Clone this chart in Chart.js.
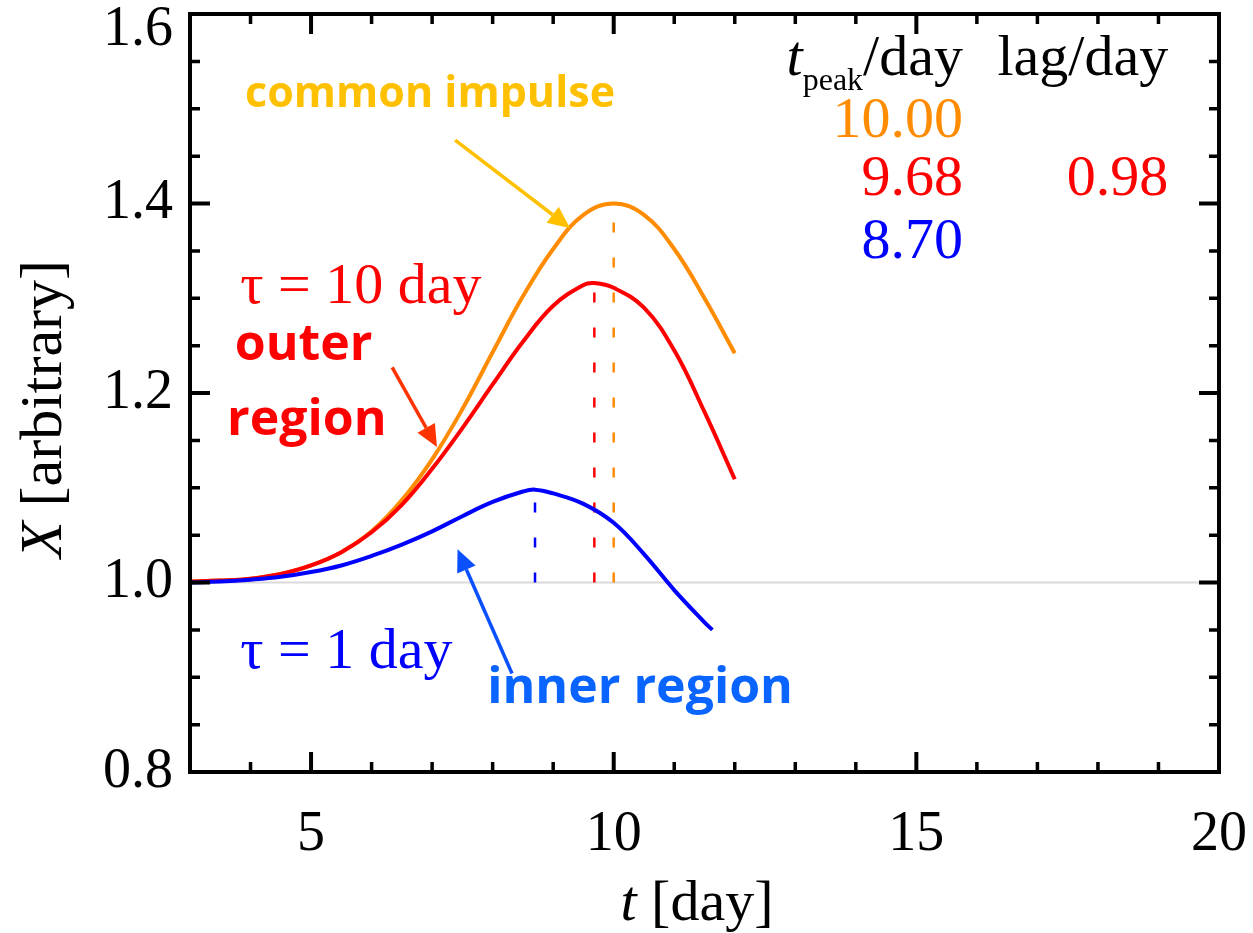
<!DOCTYPE html>
<html>
<head>
<meta charset="utf-8">
<title>Light curves</title>
<script src="https://cdn.jsdelivr.net/npm/chart.js@4.4.1/dist/chart.umd.min.js"></script>
<style>
  html, body { margin: 0; padding: 0; background: #fff; }
  #chart { display: block; }
</style>
</head>
<body>
<canvas id="chart" width="1253" height="933"></canvas>
<script>
// light curves, t in days
const tCommon = [3, 3.5, 4, 4.5, 5, 5.5, 6, 6.5, 7, 7.5, 8, 8.5, 9, 9.5, 10, 10.5, 11, 11.5, 12];
const xCommon = [1.001, 1.002, 1.004, 1.009, 1.018, 1.032, 1.054, 1.087, 1.130, 1.183, 1.243, 1.302, 1.352, 1.388, 1.400, 1.388, 1.352, 1.300, 1.242];

const tOuter = [3, 3.5, 4, 4.5, 5, 5.5, 6, 6.5, 7, 7.5, 8, 8.5, 9, 9.5, 9.68, 10, 10.5, 11, 11.5, 12];
const xOuter = [1.001, 1.002, 1.004, 1.009, 1.018, 1.032, 1.053, 1.082, 1.120, 1.163, 1.209, 1.254, 1.292, 1.314, 1.316, 1.311, 1.290, 1.245, 1.180, 1.109];

const tInner = [3, 3.5, 4, 4.5, 5, 5.5, 6, 6.5, 7, 7.5, 8, 8.5, 8.7, 9, 9.5, 10, 10.5, 11, 11.5, 11.63];
const xInner = [1.000, 1.001, 1.003, 1.006, 1.011, 1.018, 1.028, 1.040, 1.054, 1.070, 1.085, 1.096, 1.098, 1.094, 1.083, 1.063, 1.030, 0.992, 0.958, 0.950];

// peak time / peak height per curve (common, outer, inner) and the outer lag
const tPeak = [10.00, 9.68, 8.70];
const xPeak = [1.400, 1.316, 1.098];
const lagOuter = 0.98;

const xTicks = [5, 10, 15, 20];
const yTicks = [0.8, 1.0, 1.2, 1.4, 1.6];

const ORANGE = '#FF8C00';
const RED = '#FF0000';
const BLUE = '#0000FF';
const peakColors = [ORANGE, RED, BLUE];

const SERIF = '"Liberation Serif", "Times New Roman", serif';
const SANS = '"Open Sans", sans-serif';

function pts(ts, xs) {
    return ts.map((t, i) => ({ x: t, y: xs[i] }));
}

// text labels and arrows placed in data units
const notes = [
    { text: 'common impulse', t: 3.91, v: 1.502, font: '700 43px ' + SANS, color: '#FFC000' },
    { text: 'τ = 10 day', t: 3.83, v: 1.295, font: '58px ' + SERIF, color: RED },
    { text: 'outer', t: 3.74, v: 1.235, font: '700 50px ' + SANS, color: RED },
    { text: 'region', t: 3.61, v: 1.156, font: '700 50px ' + SANS, color: RED },
    { text: 'τ = 1 day', t: 3.83, v: 0.910, font: '58px ' + SERIF, color: BLUE },
    { text: 'inner region', t: 7.91, v: 0.873, font: '700 50px ' + SANS, color: '#0A64FF' }
];

const arrows = [
    { from: [7.38, 1.467], to: [9.28, 1.374], color: '#FFC000' },
    { from: [6.34, 1.227], to: [7.08, 1.143], color: '#FF3300' },
    { from: [8.32, 0.904], to: [7.42, 1.035], color: '#0A50FF' }
];

function drawRuns(ctx, runs, x, y, align) {
    let total = 0;
    runs.forEach(r => { ctx.font = r.font; r.w = ctx.measureText(r.text).width; total += r.w; });
    let cx = align === 'right' ? x - total : (align === 'center' ? x - total / 2 : x);
    runs.forEach(r => {
        ctx.font = r.font;
        ctx.fillStyle = r.color || '#000';
        ctx.fillText(r.text, cx, y + (r.dy || 0));
        cx += r.w;
    });
}

function drawArrow(ctx, x1, y1, x2, y2, color) {
    const ang = Math.atan2(y2 - y1, x2 - x1);
    const head = 22, half = 10;
    const bx = x2 - head * Math.cos(ang), by = y2 - head * Math.sin(ang);
    ctx.strokeStyle = color;
    ctx.fillStyle = color;
    ctx.lineWidth = 3.5;
    ctx.beginPath();
    ctx.moveTo(x1, y1);
    ctx.lineTo(bx, by);
    ctx.stroke();
    ctx.beginPath();
    ctx.moveTo(x2, y2);
    ctx.lineTo(bx + half * Math.sin(ang), by - half * Math.cos(ang));
    ctx.lineTo(bx - half * Math.sin(ang), by + half * Math.cos(ang));
    ctx.closePath();
    ctx.fill();
}

const annotations = {
    id: 'annotations',
    afterDatasetsDraw(chart) {
        const { ctx, scales: { x, y } } = chart;
        ctx.save();
        ctx.textBaseline = 'alphabetic';
        ctx.textAlign = 'left';
        notes.forEach(n => {
            drawRuns(ctx, [{ text: n.text, font: n.font, color: n.color }],
                x.getPixelForValue(n.t), y.getPixelForValue(n.v), 'left');
        });
        arrows.forEach(a => {
            drawArrow(ctx, x.getPixelForValue(a.from[0]), y.getPixelForValue(a.from[1]),
                x.getPixelForValue(a.to[0]), y.getPixelForValue(a.to[1]), a.color);
        });

        // peak / lag table
        const col1 = x.getPixelForValue(15.77);
        const col2 = x.getPixelForValue(19.16);
        const rows = [1.5356, 1.4702, 1.409, 1.3425].map(v => y.getPixelForValue(v));
        drawRuns(ctx, [
            { text: 't', font: 'italic 58px ' + SERIF },
            { text: 'peak', font: '32px ' + SERIF, dy: 15 },
            { text: '/day', font: '58px ' + SERIF }
        ], col1, rows[0], 'right');
        drawRuns(ctx, [{ text: 'lag/day', font: '58px ' + SERIF }], col2, rows[0], 'right');
        tPeak.forEach((tp, i) => {
            drawRuns(ctx, [{ text: tp.toFixed(2), font: '58px ' + SERIF, color: peakColors[i] }],
                col1, rows[i + 1], 'right');
        });
        drawRuns(ctx, [{ text: lagOuter.toFixed(2), font: '58px ' + SERIF, color: RED }],
            col2, rows[2], 'right');
        ctx.restore();
    }
};

// box with inward ticks on all four sides, plus axis titles
const frame = {
    id: 'frame',
    afterDraw(chart) {
        const { ctx, chartArea: a, scales: { x, y } } = chart;
        ctx.save();
        ctx.strokeStyle = '#000';
        ctx.lineCap = 'butt';
        for (let t = 4; t < 20; t++) {
            const major = t % 5 === 0;
            const len = major ? 20 : 10;
            const px = x.getPixelForValue(t);
            ctx.lineWidth = major ? 4 : 3.5;
            ctx.beginPath();
            ctx.moveTo(px, a.bottom); ctx.lineTo(px, a.bottom - len);
            ctx.moveTo(px, a.top); ctx.lineTo(px, a.top + len);
            ctx.stroke();
        }
        for (let k = 17; k < 32; k++) {
            const v = k * 0.05;
            const major = k % 4 === 0;
            const len = major ? 20 : 10;
            const py = y.getPixelForValue(v);
            ctx.lineWidth = major ? 4 : 3.5;
            ctx.beginPath();
            ctx.moveTo(a.left, py); ctx.lineTo(a.left + len, py);
            ctx.moveTo(a.right, py); ctx.lineTo(a.right - len, py);
            ctx.stroke();
        }
        ctx.lineWidth = 4;
        ctx.lineJoin = 'miter';
        ctx.strokeRect(a.left, a.top, a.right - a.left, a.bottom - a.top);

        // axis titles
        ctx.textBaseline = 'alphabetic';
        drawRuns(ctx, [
            { text: 't', font: 'italic 58px ' + SERIF },
            { text: ' [day]', font: '58px ' + SERIF }
        ], a.left + 507, 920, 'center');

        ctx.translate(45, 409);
        ctx.rotate(-Math.PI / 2);
        ctx.textBaseline = 'middle';
        drawRuns(ctx, [
            { text: 'X', font: 'italic 60px ' + SERIF },
            { text: ' [arbitrary]', font: '60px ' + SERIF }
        ], 0, 0, 'center');
        ctx.restore();
    }
};

const curve = (data, color, order) => ({
    data: data,
    borderColor: color,
    borderWidth: 4,
    pointRadius: 0,
    tension: 0.4,
    order: order
});

const peakLine = i => ({
    data: [{ x: tPeak[i], y: 1.0 }, { x: tPeak[i], y: xPeak[i] }],
    borderColor: peakColors[i],
    borderWidth: 2.5,
    borderDash: [10, 25],
    pointRadius: 0,
    tension: 0,
    order: 5
});

const isTop = v => Math.abs(v - 1.6) < 1e-9;

new Chart(document.getElementById('chart'), {
    type: 'line',
    data: {
        datasets: [
            {
                data: [{ x: 3, y: 1.0 }, { x: 20, y: 1.0 }],
                borderColor: '#d9d9d9',
                borderWidth: 2,
                pointRadius: 0,
                order: 6
            },
            peakLine(0),
            peakLine(1),
            peakLine(2),
            curve(pts(tCommon, xCommon), ORANGE, 3),
            curve(pts(tOuter, xOuter), RED, 2),
            curve(pts(tInner, xInner), BLUE, 1)
        ]
    },
    options: {
        responsive: false,
        animation: false,
        events: [],
        layout: { padding: { left: 0, top: 14, right: 34, bottom: 0 } },
        plugins: {
            legend: { display: false },
            tooltip: { enabled: false }
        },
        scales: {
            x: {
                type: 'linear',
                min: 3,
                max: 20,
                grid: { display: false, drawTicks: false },
                border: { display: false },
                afterBuildTicks: s => { s.ticks = xTicks.map(v => ({ value: v })); },
                afterFit: s => { s.height = 161; s.paddingLeft = 0; s.paddingRight = 0; },
                ticks: {
                    color: '#000',
                    padding: 30,
                    maxRotation: 0,
                    autoSkip: false,
                    font: { family: SERIF, size: 56 },
                    callback: v => String(v)
                }
            },
            y: {
                type: 'linear',
                min: 0.8,
                max: 1.6,
                grid: { display: false, drawTicks: false },
                border: { display: false },
                afterBuildTicks: s => { s.ticks = yTicks.map(v => ({ value: v })); },
                afterFit: s => { s.width = 190; s.paddingTop = 0; s.paddingBottom = 0; },
                ticks: {
                    color: '#000',
                    padding: 17,
                    autoSkip: false,
                    font: c => ({ family: SERIF, size: 56, lineHeight: (c.tick && isTop(c.tick.value)) ? 0.58 : 1.2 }),
                    callback: v => isTop(v) ? ['', v.toFixed(1)] : v.toFixed(1)
                }
            }
        }
    },
    plugins: [annotations, frame]
});
</script>
</body>
</html>
